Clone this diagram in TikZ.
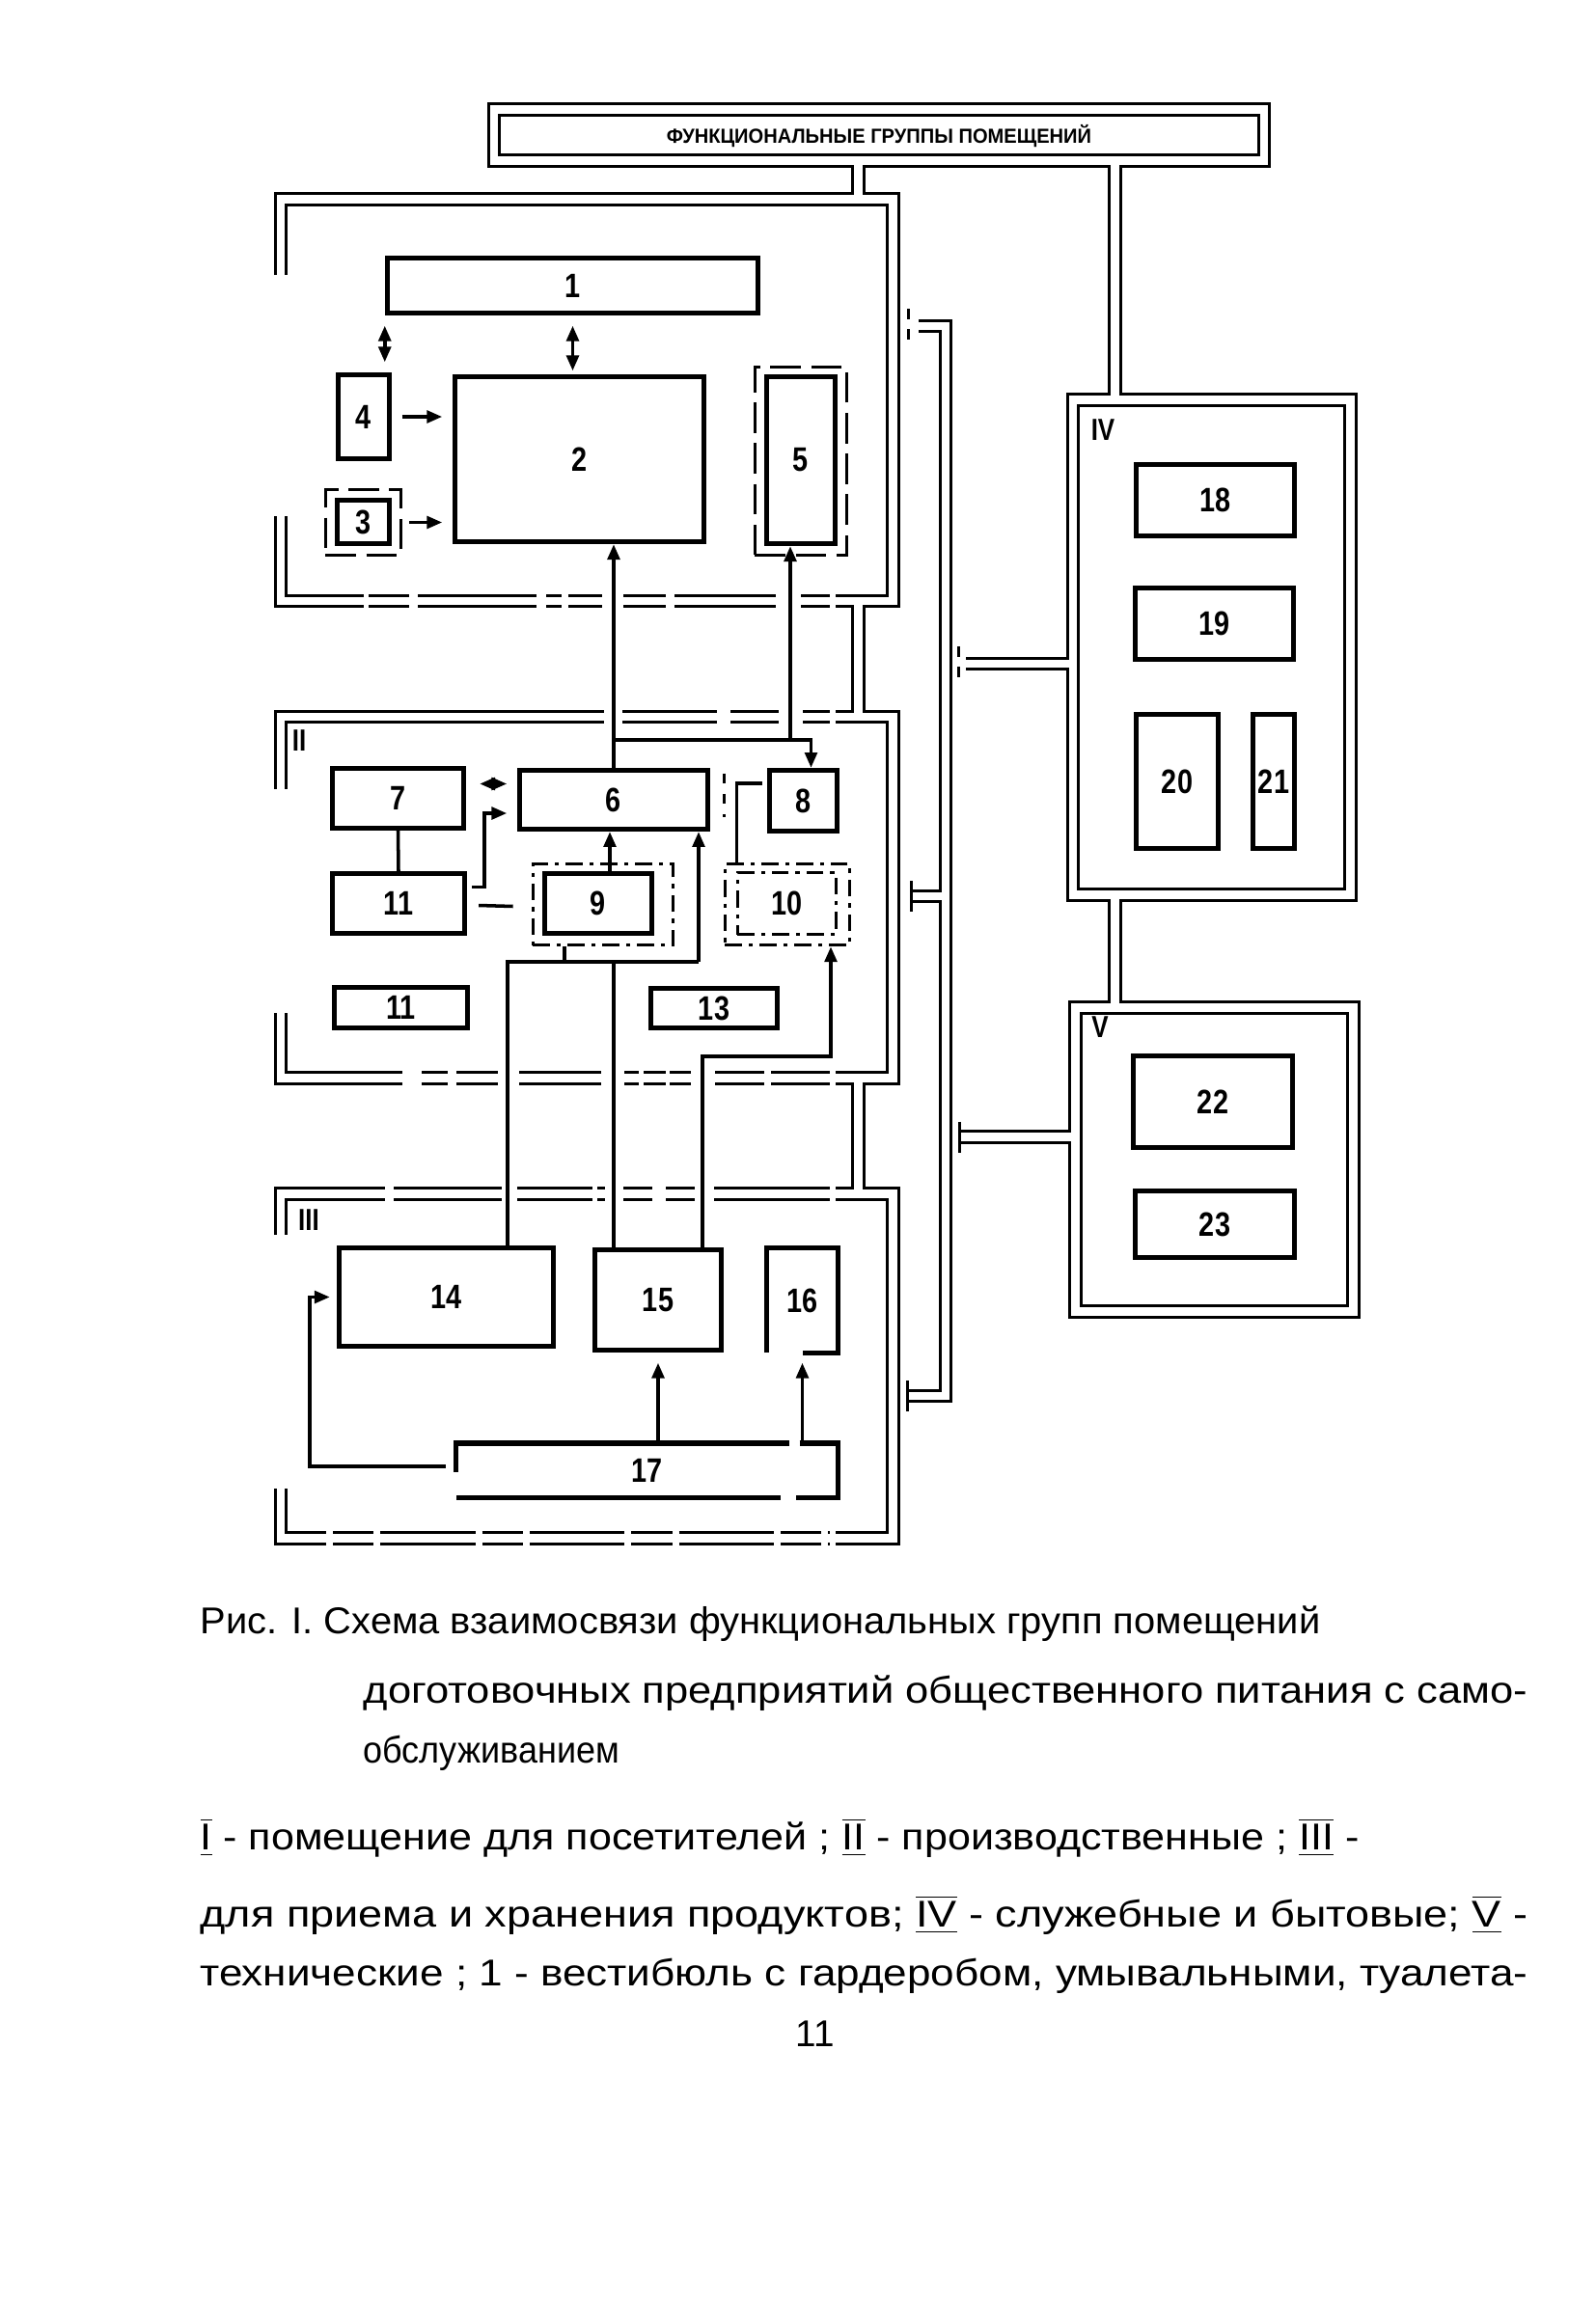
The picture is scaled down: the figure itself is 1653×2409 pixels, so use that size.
\documentclass[tikz,border=0pt]{standalone}
\usepackage{fontspec}
\setmainfont{Liberation Sans}
\newfontfamily\numfont{Liberation Sans}[FakeStretch=0.82]
\usepackage{graphicx}
\usetikzlibrary{arrows.meta,calc}

\newcommand{\rn}[1]{$\overline{\underline{\mbox{#1}}}$}
\newcommand{\capline}[2]{\resizebox{#1}{\height}{#2}}

\tikzset{
  wall/.style={double, line width=0.85pt, double distance=2.3pt},
  room/.style={draw, line width=1.5pt, inner sep=0pt, font=\numfont\bfseries\fontsize{10}{12}\selectfont},
  dashbox/.style={draw, line width=1pt, dash pattern=on 9pt off 3pt, inner sep=0pt},
  dotbox/.style={draw, line width=1pt, dash pattern=on 5pt off 2pt on 1.2pt off 2pt, inner sep=0pt},
  roomline/.style={line width=1.5pt},
  link/.style={line width=1pt},
  lip/.style={line width=0.85pt},
  grouplabel/.style={font=\numfont\bfseries\fontsize{9}{10}\selectfont, inner sep=0pt},
  captext/.style={anchor=west, inner sep=0pt, font=\fontsize{11}{13}\selectfont},
}

\begin{document}
\begin{tikzpicture}[x={(0.01cm,0)}, y={(0,-0.01cm)}, >={Triangle[length=4.5pt,width=3.6pt]}]

\fill[white] (0,0) rectangle (1653,2409);

\def\wallL{291}
\def\wallR{925.5}
\def\pipeX{889.5}
\def\collX{980}

% rooms
\foreach \n/\x/\y/\w/\h/\t in {%
  r1/593.5/296/3.84cm/0.57cm/1,%
  r2/600.5/476/2.58cm/1.71cm/2,%
  r3/376.5/541/0.54cm/0.45cm/3,%
  r4/377/432/0.53cm/0.87cm/4,%
  r5/830/477/0.71cm/1.73cm/5,%
  r6/636/829/1.95cm/0.61cm/6,%
  r7/412.5/827.5/1.36cm/0.62cm/7,%
  r8/832.5/830/0.70cm/0.63cm/8,%
  r9/620/936.5/1.11cm/0.62cm/9,%
  r11/413/936.5/1.37cm/0.62cm/11,%
  r12/415.5/1044.5/1.38cm/0.42cm/11,%
  r13/740/1045/1.31cm/0.41cm/13,%
  r14/462.5/1344.5/2.22cm/1.02cm/14,%
  r15/682/1347.5/1.31cm/1.04cm/15,%
  r18/1259.5/518.5/1.64cm/0.74cm/18,%
  r19/1258.5/646.5/1.64cm/0.74cm/19,%
  r20/1220/810/0.85cm/1.39cm/20,%
  r21/1320/810/0.43cm/1.39cm/21,%
  r22/1257/1142/1.65cm/0.95cm/22,%
  r23/1259/1269/1.65cm/0.69cm/23%
}
  \node[room, minimum width=\w, minimum height=\h] (\n) at (\x,\y) {\t};

\foreach \n/\x/\y/\w/\h/\s in {%
  r3o/376.5/541.5/0.78cm/0.68cm/dashbox,%
  r5o/830/478/0.95cm/1.95cm/dashbox,%
  r9o/625/937.5/1.45cm/0.84cm/dotbox,%
  r10o/816/937.5/1.29cm/0.84cm/dotbox%
}
  \node[\s, minimum width=\w, minimum height=\h] (\n) at (\x,\y) {};

\node[dotbox, minimum width=1.02cm, minimum height=0.64cm, font=\numfont\bfseries\fontsize{10}{12}\selectfont] (r10) at (815.5,936.5) {10};

% 16 and 17 are not closed
\node[room, draw=none, minimum width=0.68cm, minimum height=1.03cm] (r16) at (831.5,1348) {16};
\node[room, draw=none, minimum width=3.90cm, minimum height=0.51cm] (r17) at (670.5,1524) {17};
\draw[roomline] (r16.south west) -- (r16.north west) -- (r16.north east) -- (r16.south east) -- (r16.south);
\draw[roomline] ($(r17.west)+(0,2)$) -- (r17.north west) -- ($(r17.north)+(147,0)$);
\draw[roomline] ($(r17.north)+(158,0)$) -- (r17.north east) -- (r17.south east) -- ($(r17.south)+(154,0)$);
\draw[roomline] ($(r17.south)+(138,0)$) -- (r17.south west);

% solid walls, one path so that the joints merge
\draw[wall]
  (512,113.5) rectangle (1310,166.5)
  (\pipeX,166.5) -- (\pipeX,206.5)
  (1155.5,166.5) -- (1155.5,414.5)
  (\wallL,285) |- (\wallR,206.5) |- (866,623)
  (\pipeX,623) -- (\pipeX,743)
  (866,743) -| (\wallR,1117.5) -- (866,1117.5)
  (\pipeX,1117.5) -- (\pipeX,1237.5)
  (866,1237.5) -| (\wallR,1594.5) -- (866,1594.5)
  (1112,414.5) rectangle (1399.5,927.5)
  (1155.5,927.5) -- (1155.5,1044.5)
  (1114.5,1044.5) rectangle (1402.5,1359.5)
  (1001,688) -- (1112,688)
  (994,1178.5) -- (1114.5,1178.5)
  (952,338) -| (\collX,1447) -- (940,1447)
  (\collX,929) -- (944,929);

% broken walls
\draw[wall] (\wallL,535) |- (377,623);
\foreach \a/\b in {382/424, 433/556, 566/582, 589/624, 646/690, 699/804, 830/860}
  \draw[wall] (\a,623) -- (\b,623);
\draw[wall] (\wallL,818) |- (626,743);
\foreach \a/\b in {645/743, 757/807, 832/860}
  \draw[wall] (\a,743) -- (\b,743);
\draw[wall] (\wallL,1050) |- (417,1117.5);
\foreach \a/\b in {437/464, 473/516, 538/623, 647/662, 667/690, 694/716, 741/792, 799/860}
  \draw[wall] (\a,1117.5) -- (\b,1117.5);
\draw[wall] (\wallL,1280) |- (399,1237.5);
\foreach \a/\b in {408/520, 536/614, 619/627, 646/676, 690/720, 740/860}
  \draw[wall] (\a,1237.5) -- (\b,1237.5);
\draw[wall, dash pattern=on 28pt off 2pt on 12pt off 2pt] (\wallL,1543) |- (860,1594.5);

\draw[lip, dashed] (941,320) -- (941,356);
\draw[lip, dashed] (993,670) -- (993,706);
\foreach \x/\y in {944/929, 940/1447, 994/1178.5}
  \draw[lip] (\x,\y-16) -- (\x,\y+16);

\node[grouplabel] (gII) at (310,768) {II};
\node[grouplabel] (gIII) at (320,1265) {III};
\node[grouplabel] (gIV) at (1143,446) {IV};
\node[grouplabel] (gV) at (1140,1065) {V};

\node[font=\bfseries\fontsize{6}{7}\selectfont, inner sep=0pt] (head) at (911,141) {\capline{4.4cm}{ФУНКЦИОНАЛЬНЫЕ ГРУППЫ ПОМЕЩЕНИЙ}};

% group I
\draw[link,<->,shorten <=3pt,shorten >=3pt] (r1.south west) -- (r1.south west |- r4.north);
\draw[link,<->,shorten <=3pt,shorten >=1pt] (r1.south) -- (r1.south |- r2.north);
\draw[link,->,shorten <=3pt,shorten >=3pt] (r4.east) -- (r4.east -| r2.west);
\draw[link,->,shorten <=2pt,shorten >=3pt] (r3o.east) -- (r3o.east -| r2.west);

% group II up to group I
\coordinate (j5) at (819,767);
\draw[link,->] (r6.north) -- (r6.north |- r2.south);
\draw[link] (r6.north |- j5) -- (j5);
\draw[link,->] (j5) -- (j5 |- r5.south);
\draw[link,->] (j5) -| ($(r8.north)+(8,0)$);

% group II
\draw[link,<->,dash pattern=on 0pt off 50pt,shorten <=4pt,shorten >=3pt] ($(r7.east)+(0,-15)$) -- ($(r6.west)+(0,-16.5)$);
\draw[link,->,shorten >=3pt] ($(r11.east)+(5,-17)$) -| ($(r6.west)+(-34,14)$) -- ($(r6.west)+(0,14)$);
\draw[link] (r7.south) -- (r11.north);
\draw[link] ($(r11.east)+(12,2)$) -- ($(r9o.west)+(-19,2)$);
\draw[link,->] ($(r9.north)+(12,0)$) -- ($(r6.south)+(-4,0)$);
\draw[link] ($(r8.west)+(-5,-18)$) -| ($(r10o.north west)+(14,0)$);
\draw[link, dashed] ($(r10o.north west)+(1,-92)$) -- ++(0,45);

% group III up to group II
\coordinate (h1) at (526,997);
\coordinate (h2) at (724,997);
\coordinate (h3) at (861,1095);
\coordinate (h9) at ($(r9o.south)+(-40,0)$);
\coordinate (t14) at ($(r14.north)+(63.5,0)$);
\coordinate (t15a) at ($(r15.north)+(-46,0)$);
\coordinate (t15b) at ($(r15.north)+(46,0)$);
\draw[link] (t14) -- (h1) -- (h2);
\draw[link,->] (h2) -- (h2 |- r6.south);
\draw[link] (h9) -- (h9 |- h1);
\draw[link] (t15a) -- (t15a |- h1);
\draw[link,->] (t15b) |- (h3) -- (h3 |- r10o.south);

% group III
\draw[link,->,shorten >=3pt] (r17.north -| r15.south) -- (r15.south);
\draw[link,->,shorten >=3pt] (r17.north -| r16.south) -- (r16.south);
\draw[link,->,shorten >=2pt] ($(r17.west)+(-11,-4)$) -| ($(r14.west)+(-28,0)$) -- (r14.west);

% caption
\node[captext] (cap1) at (207,1683) {\capline{11.6cm}{Рис. I. Схема взаимосвязи функциональных групп помещений}};
\node[captext] (cap2) at (376,1755) {\capline{12.06cm}{доготовочных предприятий общественного питания с само-}};
\node[captext] (cap3) at (376,1817) {\capline{2.65cm}{обслуживанием}};
\node[captext] (leg1) at (207,1905) {\capline{12.0cm}{\rn{I} - помещение для посетителей ; \rn{II} - производственные ; \rn{III} -}};
\node[captext] (leg2) at (207,1985) {\capline{13.75cm}{для приема и хранения продуктов; \rn{IV} - служебные и бытовые; \rn{V} -}};
\node[captext] (leg3) at (207,2048) {\capline{13.75cm}{технические ; 1 - вестибюль с гардеробом, умывальными, туалета-}};
\node[captext, anchor=center] (page) at (845,2108) {11};

\end{tikzpicture}
\end{document}
